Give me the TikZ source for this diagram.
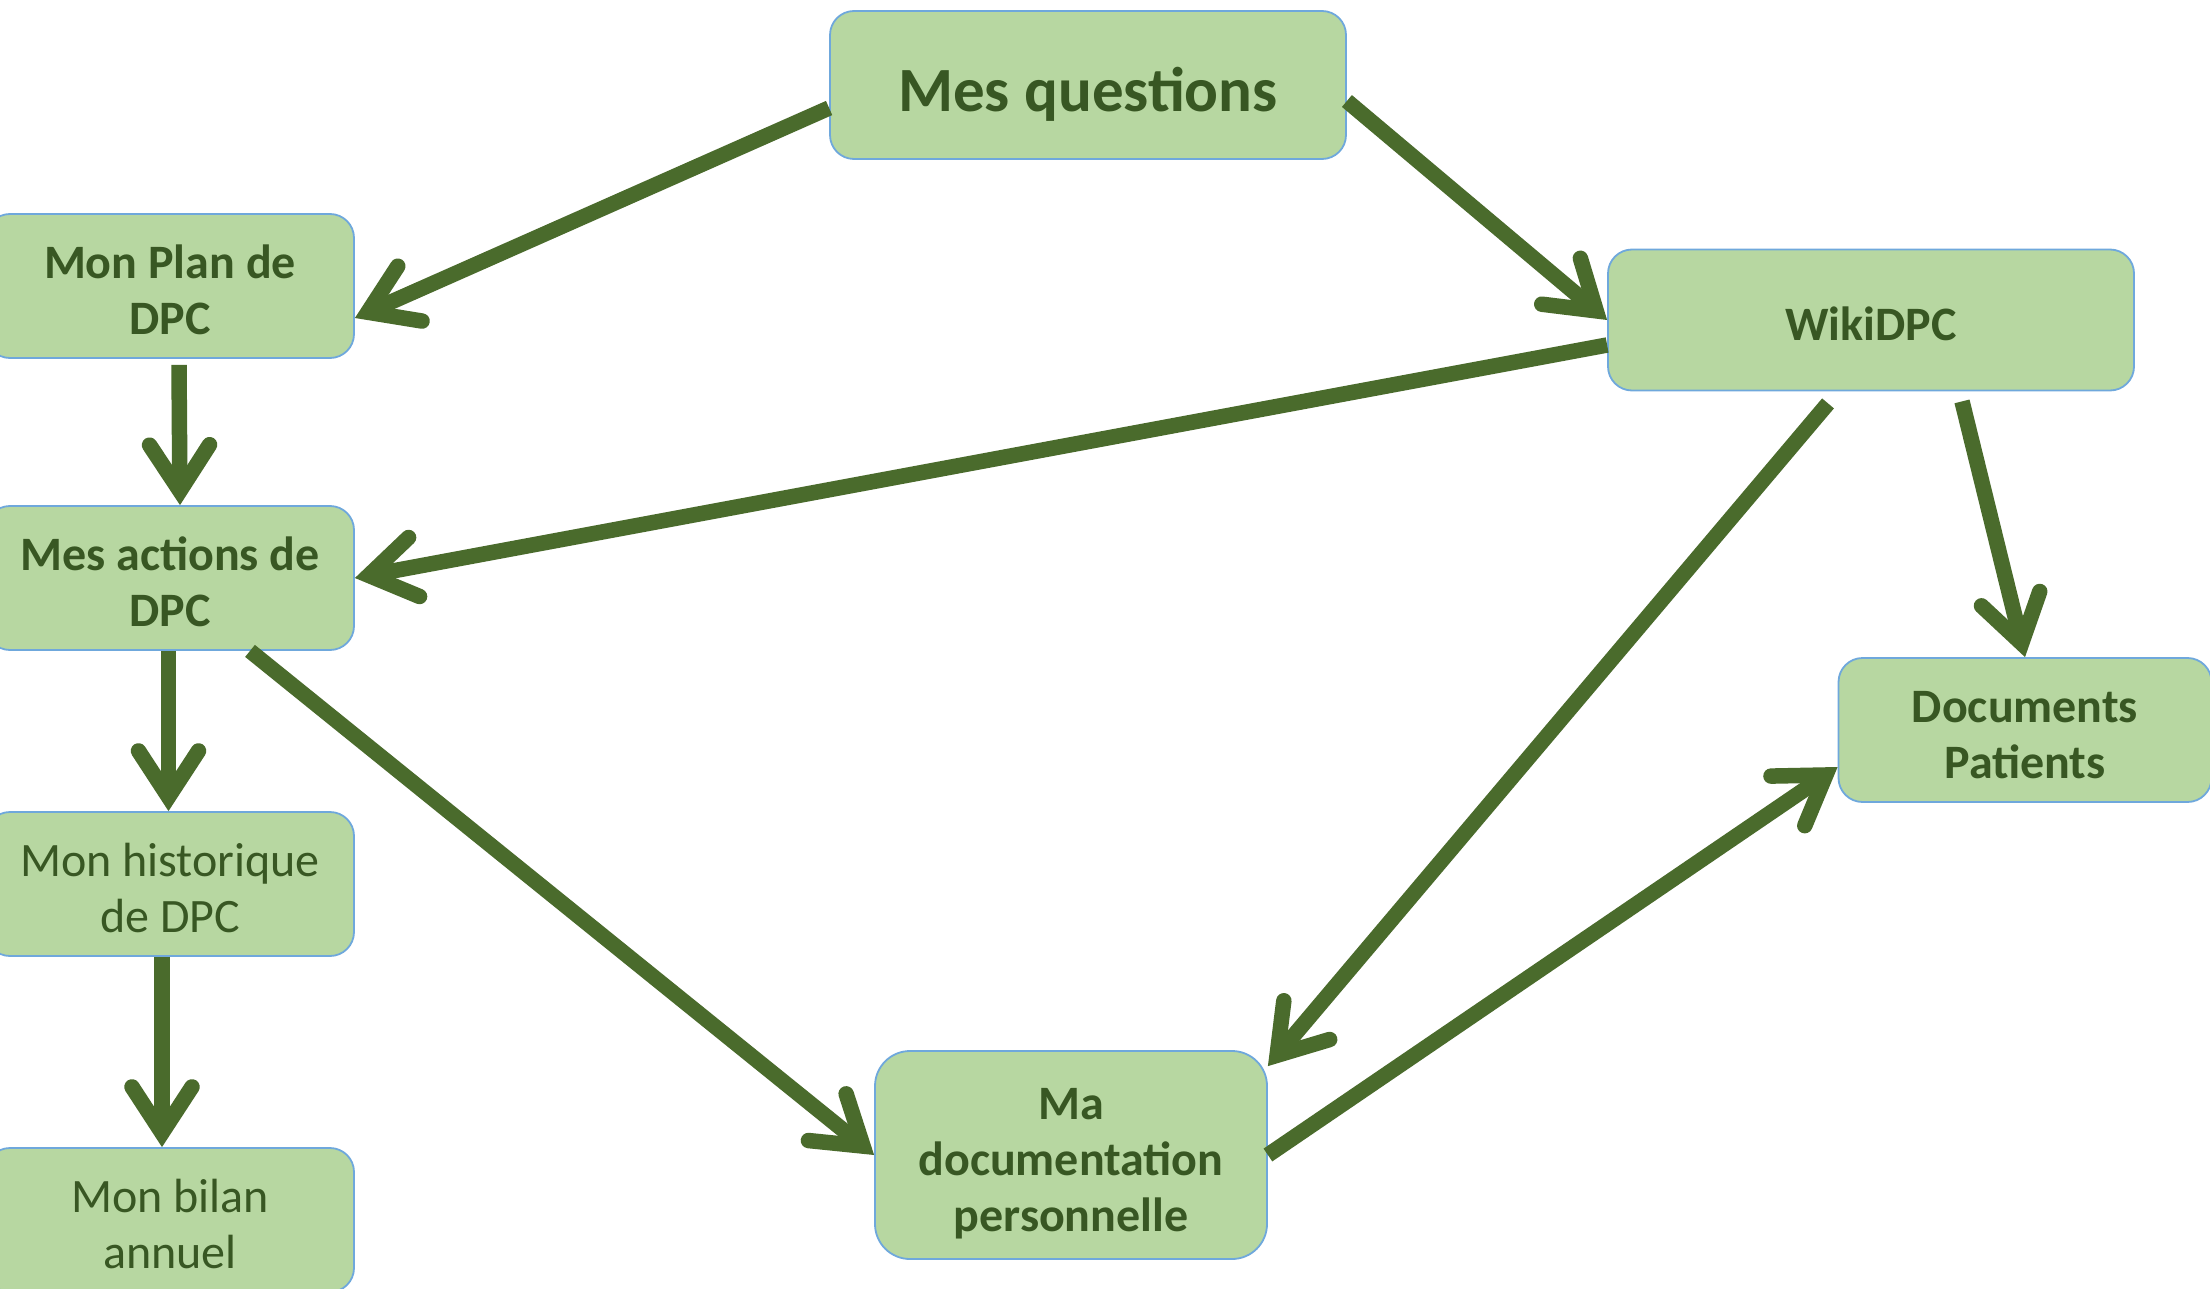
\documentclass[tikz,border=0pt]{standalone}
\usepackage{fontspec}
\setmainfont{Carlito}
\usetikzlibrary{arrows.meta}
\definecolor{boxfill}{HTML}{B7D7A1}
\definecolor{boxline}{HTML}{6FA8DC}
\definecolor{txt}{HTML}{385723}
\definecolor{arr}{HTML}{4A6B2C}
\newcommand\btxt[2][9pt]{\raisebox{-#1}[\height][\depth]{\begin{tabular}{@{}c@{}}#2\end{tabular}}}
\begin{document}
\begin{tikzpicture}[x=1pt,y=-1pt,
  box/.style={draw=boxline, line width=1.8pt, fill=boxfill, rounded corners=24pt,
    inner sep=0pt, text=txt,
    font=\fontsize{48}{56}\selectfont\bfseries},
  plainbox/.style={box, font=\fontsize{48}{56}\selectfont},
  link/.style={draw=arr, line width=15.5pt,
    -{Straight Barb[length=46pt,width=60pt,line cap=round,line join=miter]}},
]
\useasboundingbox (0,0) rectangle (2210,1289);
\fill[white] (0,0) rectangle (2210,1289);

\node[box, minimum width=516pt, minimum height=148pt,
  font=\fontsize{63}{76}\selectfont\bfseries] (Q) at (1088,85) {\btxt[11pt]{Mes questions}};
\node[box, minimum width=368pt, minimum height=144pt] (plan) at (170,286) {\btxt{Mon Plan de\\DPC}};
\node[box, minimum width=368pt, minimum height=144pt] (act) at (170,578) {\btxt{Mes actions de\\DPC}};
\node[plainbox, minimum width=368pt, minimum height=144pt] (hist) at (170,884) {\btxt{Mon historique\\de DPC}};
\node[plainbox, minimum width=368pt, minimum height=144pt] (bilan) at (170,1220) {\btxt{Mon bilan\\annuel}};
\node[box, minimum width=526pt, minimum height=141pt] (wiki) at (1871,320) {\btxt[9.5pt]{WikiDPC}};
\node[box, minimum width=373pt, minimum height=144pt] (docs) at (2025,730) {\btxt{Documents\\Patients}};
\node[box, minimum width=392pt, minimum height=208pt, rounded corners=35pt] (madoc) at (1071,1155) {\btxt[9pt]{Ma\\documentation\\personnelle}};

\draw[link] ([yshift=-23pt]Q.west) -- ([yshift=-32pt]plan.east);
\draw[link] ([yshift=-16pt]Q.east) -- (wiki.west);
\draw[link] ([yshift=-25pt]wiki.west) -- (act.east);
\draw[link] ([xshift=-43pt,yshift=-12pt]wiki.south) -- ([yshift=-16pt]madoc.north east);
\draw[link] ([xshift=91pt,yshift=-10pt]wiki.south) -- (docs.north);
\draw[link] ([xshift=9pt,yshift=-6pt]plan.south) -- ([xshift=10pt]act.north);
\draw[link] ([xshift=-1.5pt]act.south) -- ([xshift=-1.5pt]hist.north);
\draw[link] ([xshift=-8pt]hist.south) -- ([xshift=-8pt]bilan.north);
\draw[link] ([xshift=80pt]act.south) -- (madoc.west);
\draw[link] (madoc.east) -- ([yshift=-37pt]docs.west);
\end{tikzpicture}
\end{document}
